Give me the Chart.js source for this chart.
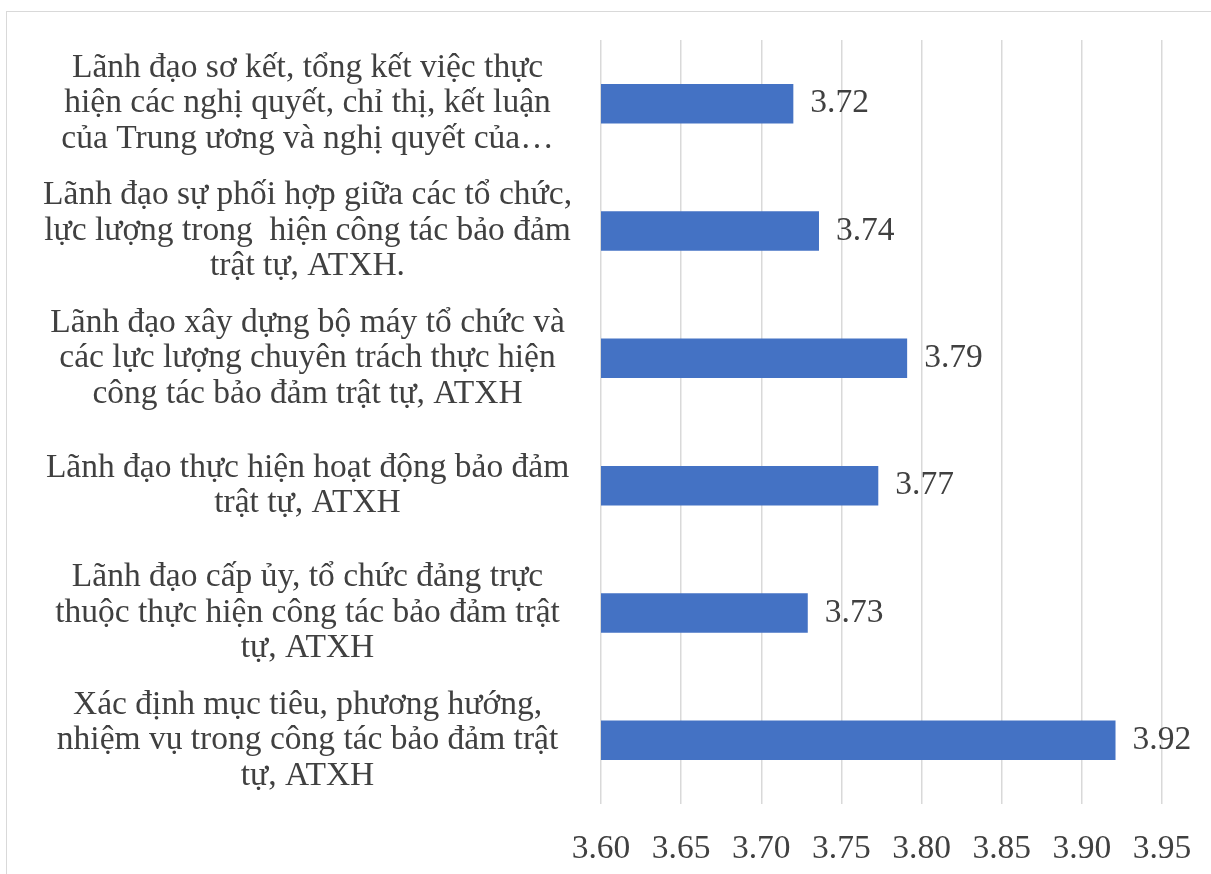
<!DOCTYPE html>
<html>
<head>
<meta charset="utf-8">
<script src="https://cdn.jsdelivr.net/npm/chart.js@4/dist/chart.umd.min.js"></script>
<style>
  body { margin: 0; background: #fff; }
  #frame { position: absolute; left: 6px; top: 11px; width: 1400px; height: 1000px; border: 1.5px solid #d9d9d9; }
  #chart { position: absolute; left: 0; top: 0; }
</style>
</head>
<body>
<div id="frame"></div>
<canvas id="chart" width="1211" height="874"></canvas>
<script>
// Bar chart of leadership evaluation scores (top to bottom as in the source)
const categories = [
  ['Lãnh đạo sơ kết, tổng kết việc thực', 'hiện các nghị quyết, chỉ thị, kết luận', 'của Trung ương và nghị quyết của…'],
  ['Lãnh đạo sự phối hợp giữa các tổ chức,', 'lực lượng trong  hiện công tác bảo đảm', 'trật tự, ATXH.'],
  ['Lãnh đạo xây dựng bộ máy tổ chức và', 'các lực lượng chuyên trách thực hiện', 'công tác bảo đảm trật tự, ATXH'],
  ['Lãnh đạo thực hiện hoạt động bảo đảm', 'trật tự, ATXH'],
  ['Lãnh đạo cấp ủy, tổ chức đảng trực', 'thuộc thực hiện công tác bảo đảm trật', 'tự, ATXH'],
  ['Xác định mục tiêu, phương hướng,', 'nhiệm vụ trong công tác bảo đảm trật', 'tự, ATXH']
];
const scores = [3.72, 3.736, 3.791, 3.773, 3.729, 3.921];
const axisMin = 3.60;
const axisMax = 3.95;
const axisStep = 0.05;

const textColor = '#404040';
const serif = "'Liberation Serif', 'Times New Roman', serif";
const fontSize = 33.5;

// value labels at the end of each bar
const barValueLabels = {
  id: 'barValueLabels',
  afterDatasetsDraw(chart) {
    const ctx = chart.ctx;
    const meta = chart.getDatasetMeta(0);
    ctx.save();
    ctx.font = fontSize + 'px ' + serif;
    ctx.fillStyle = textColor;
    ctx.textAlign = 'left';
    ctx.textBaseline = 'middle';
    meta.data.forEach((bar, i) => {
      ctx.fillText(scores[i].toFixed(2), bar.x + 17, bar.y);
    });
    ctx.restore();
  }
};

new Chart(document.getElementById('chart'), {
  type: 'bar',
  data: {
    labels: categories,
    datasets: [{
      data: scores,
      backgroundColor: '#4472C4',
      borderWidth: 0,
      barPercentage: 0.31,
      categoryPercentage: 1
    }]
  },
  options: {
    indexAxis: 'y',
    responsive: false,
    animation: false,
    layout: { padding: { left: 6, right: 49, top: 40, bottom: 0 } },
    plugins: { legend: { display: false }, tooltip: { enabled: false } },
    scales: {
      x: {
        min: axisMin,
        max: axisMax,
        border: { display: false },
        grid: { color: '#d9d9d9', lineWidth: 1.5, drawTicks: false },
        ticks: {
          stepSize: axisStep,
          color: textColor,
          padding: 27,
          font: { family: serif, size: fontSize, lineHeight: 1.06 },
          callback: v => Number(v).toFixed(2)
        },
        afterFit: s => {
          s.height = 70;
          s.paddingLeft = 0;
          s.paddingRight = 0;
        }
      },
      y: {
        border: { display: false },
        grid: { display: false, drawTicks: false },
        ticks: {
          autoSkip: false,
          crossAlign: 'center',
          padding: 29,
          color: textColor,
          font: { family: serif, size: fontSize, lineHeight: 1.06 }
        },
        afterFit: s => {
          s.width = 595;
          // the multi-line labels fit inside their bands, no extra room needed
          s.paddingTop = 0;
          s.paddingBottom = 0;
        }
      }
    }
  },
  plugins: [barValueLabels]
});
</script>
</body>
</html>
